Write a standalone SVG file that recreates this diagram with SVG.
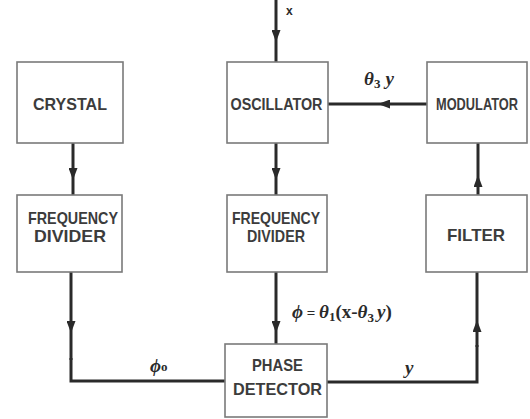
<svg xmlns="http://www.w3.org/2000/svg" width="530" height="419" viewBox="0 0 530 419">
<style>
.box{fill:#fff;stroke:#7a7a7a;stroke-width:1.6}
.lbl{font-family:"Liberation Sans",Arial,sans-serif;font-weight:bold;font-size:16.5px;fill:#3c3c3c;text-anchor:middle}
.wire{fill:none;stroke:#2a2a2a;stroke-width:3}
.math{font-family:"Liberation Serif","Times New Roman",serif;font-style:italic;font-weight:bold;font-size:19px;fill:#2a2a2a}
.sans{font-family:"Liberation Sans",Arial,sans-serif;font-weight:bold;fill:#2a2a2a}
</style>
<defs>
<marker id="ah" markerUnits="userSpaceOnUse" markerWidth="12" markerHeight="9" refX="12" refY="4.5" orient="auto">
<path d="M0,0 L12,4.5 L0,9 z" fill="#2a2a2a"/>
</marker>
</defs>
<rect width="530" height="419" fill="#fff"/>
<g id="connectors">
<path class="wire" d="M276,0 L276,42 L276,62" marker-mid="url(#ah)"/>
<path class="wire" d="M73,143 L73,180 L73,195" marker-mid="url(#ah)"/>
<path class="wire" d="M276,143 L276,180 L276,195" marker-mid="url(#ah)"/>
<path class="wire" d="M478,195 L478,175 L478,143" marker-mid="url(#ah)"/>
<path class="wire" d="M427,104 L378,104 L328,104" marker-mid="url(#ah)"/>
<path class="wire" d="M71,272 L71,333 L71,360" marker-mid="url(#ah)"/>
<path class="wire" d="M71,358 L71,381 L225,381"/>
<path class="wire" d="M276,272 L276,333 L276,344" marker-mid="url(#ah)"/>
<path class="wire" d="M327,382 L477,382 L477,345"/>
<path class="wire" d="M477,347 L477,320 L477,272" marker-mid="url(#ah)"/>
</g>
<g id="crystal"><rect class="box" x="17" y="62" width="106" height="81"/><text class="lbl" x="70" y="110" textLength="74" lengthAdjust="spacingAndGlyphs">CRYSTAL</text></g>
<g id="oscillator"><rect class="box" x="227" y="62" width="101" height="81"/><text class="lbl" x="276.5" y="110" textLength="92" lengthAdjust="spacingAndGlyphs">OSCILLATOR</text></g>
<g id="modulator"><rect class="box" x="427" y="62" width="100" height="81"/><text class="lbl" x="477" y="110" font-size="14" textLength="82" lengthAdjust="spacingAndGlyphs">MODULATOR</text></g>
<g id="freqdiv1"><rect class="box" x="17" y="195" width="105" height="77"/><text class="lbl" x="73" y="224" textLength="90" lengthAdjust="spacingAndGlyphs">FREQUENCY</text><text class="lbl" x="70" y="242" textLength="72" lengthAdjust="spacingAndGlyphs">DIVIDER</text></g>
<g id="freqdiv2"><rect class="box" x="227" y="195" width="100" height="77"/><text class="lbl" x="276" y="224" textLength="88" lengthAdjust="spacingAndGlyphs">FREQUENCY</text><text class="lbl" x="276" y="242" textLength="58" lengthAdjust="spacingAndGlyphs">DIVIDER</text></g>
<g id="filter"><rect class="box" x="426" y="195" width="101" height="77"/><text class="lbl" x="476" y="241" textLength="58" lengthAdjust="spacingAndGlyphs">FILTER</text></g>
<g id="phasedetector"><rect class="box" x="225" y="344" width="102" height="73"/><text class="lbl" x="277.5" y="371" textLength="51" lengthAdjust="spacingAndGlyphs">PHASE</text><text class="lbl" x="277.5" y="395" textLength="89" lengthAdjust="spacingAndGlyphs">DETECTOR</text></g>
<g id="labels">
<text class="sans" x="286" y="15" font-size="12">x</text>
<text class="math" x="364" y="85">θ<tspan font-size="13" dy="3" font-style="normal">3</tspan><tspan dy="-3" dx="5">y</tspan></text>
<text class="math" x="292" y="318">ϕ<tspan font-style="normal" font-size="15"> = </tspan>θ<tspan font-size="13" dy="3" font-style="normal">1</tspan><tspan dy="-3" font-style="normal">(x-</tspan>θ<tspan font-size="13" dy="4" font-style="normal">3</tspan><tspan dy="-4" dx="3">y</tspan><tspan font-style="normal">)</tspan></text>
<text class="math" x="150" y="372">ϕ<tspan font-size="13" font-style="normal" dy="-1">o</tspan></text>
<text class="math" x="405" y="374">y</text>
</g>
</svg>
